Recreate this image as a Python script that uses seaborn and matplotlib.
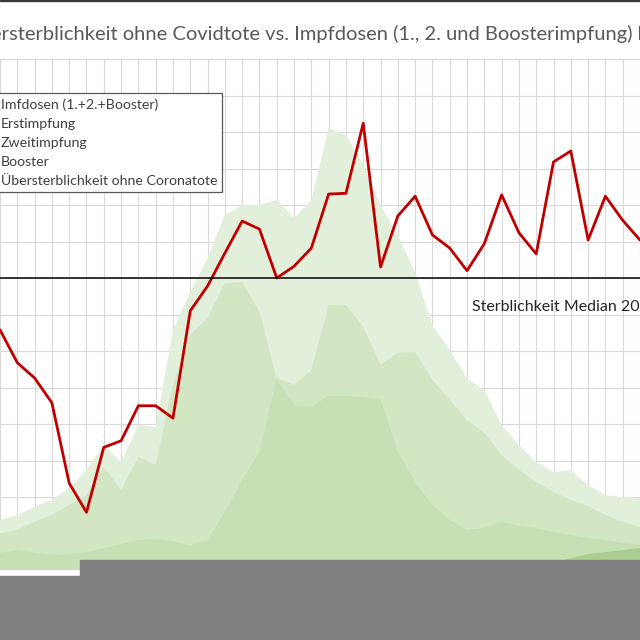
import numpy as np
import pandas as pd
import matplotlib
matplotlib.use('Agg')
import matplotlib.pyplot as plt
import seaborn as sns
from matplotlib.patches import Rectangle

sns.set_style('whitegrid', {'grid.color': '#d9d9d9'})
plt.rcParams['font.family'] = ['Lato', 'DejaVu Sans']

# -------------------------------------------
# Daten (Kalenderwochen, Impfdosen in Tsd., Übersterblichkeit in %)
# -------------------------------------------
weeks = list(range(38))

dosen_gesamt = [137, 151, 173, 192, 225, 274, 342, 296, 397, 392,
                658, 762, 855, 973, 1000, 1000, 1014, 964, 1014, 1211,
                1192, 1110, 1000, 918, 816, 671, 603, 526, 493, 397,
                342, 296, 268, 274, 233, 205, 200, 197]
erstimpfung = [101, 110, 132, 151, 178, 205, 282, 219, 310, 288,
               507, 644, 690, 786, 789, 707, 521, 452, 447, 477,
               477, 474, 466, 323, 241, 178, 137, 110, 115, 132,
               121, 115, 104, 96, 88, 82, 74, 68]
zweitimpfung = [47, 55, 47, 41, 44, 49, 60, 71, 82, 85,
                79, 68, 82, 159, 247, 323, 526, 507, 548, 726,
                726, 666, 562, 595, 597, 521, 466, 411, 375, 315,
                274, 241, 214, 192, 175, 151, 132, 118]
booster = [0, 0, 0, 0, 0, 0, 0, 0, 0, 0,
           0, 0, 0, 0, 0, 0, 0, 0, 0, 0,
           0, 0, 0, 0, 0, 0, 0, 0, 0, 0,
           0, 5, 19, 33, 44, 49, 55, 60]
uebersterblichkeit = [-7.1, -11.6, -13.7, -17.1, -28.1, -32.1, -23.2, -22.3, -17.5, -17.5,
                      -19.2, -4.5, -1.1, 3.4, 7.8, 6.7, 0.0, 1.6, 4.1, 11.5,
                      11.6, 21.2, 1.5, 8.5, 11.2, 5.9, 4.1, 1.0, 4.7, 11.4,
                      6.2, 3.3, 15.9, 17.4, 5.2, 11.2, 7.9, 5.2]

df = pd.DataFrame({'woche': weeks, 'gesamt': dosen_gesamt, 'erst': erstimpfung,
                   'zweit': zweitimpfung, 'booster': booster,
                   'uebersterblichkeit': uebersterblichkeit})

fig = plt.figure(figsize=(6.4, 6.4), dpi=100)
ax = fig.add_axes([0, 1 - 570 / 640, 1, 511 / 640])

h_total = ax.fill_between(df['woche'], df['gesamt'], color='#e2efda', lw=0, zorder=1)
h_erst = ax.fill_between(df['woche'], df['erst'], color='#a9d08e', alpha=0.28, lw=0, zorder=2)
h_zweit = ax.fill_between(df['woche'], df['zweit'], color='#a9d08e', alpha=0.28, lw=0, zorder=3)
h_boost = ax.fill_between(df['woche'], df['booster'], color='#8fbf6e', alpha=0.5, lw=0, zorder=4)

ax.set_xlim(0.24, 36.81)
ax.set_ylim(0, 1400)
ax.set_xticks(weeks)
ax.set_yticks(range(0, 1401, 100))
ax.tick_params(labelbottom=False, labelleft=False, length=0)
ax.set_axisbelow(True)
ax.grid(True, color='#d9d9d9', lw=0.8)
for s in ax.spines.values():
    s.set_visible(False)

ax2 = ax.twinx()
sns.lineplot(x='woche', y='uebersterblichkeit', data=df, ax=ax2,
             color='#c00000', lw=2, legend=False)
h_red = ax2.lines[0]
ax2.axhline(0, color='black', lw=1.1)
ax2.set_ylim(-40, 30)
ax2.set_yticks([])
ax2.grid(False)
ax2.set_xlabel('')
ax2.set_ylabel('')
for s in ax2.spines.values():
    s.set_visible(False)

leg = ax2.legend([h_total, h_erst, h_zweit, h_boost, h_red],
                 ['Imfdosen (1.+2.+Booster)', 'Erstimpfung', 'Zweitimpfung', 'Booster',
                  'Übersterblichkeit ohne Coronatote'],
                 loc='upper left', bbox_to_anchor=(-44 / 640, 1 - 93 / 640),
                 bbox_transform=fig.transFigure, borderaxespad=0,
                 fontsize=10.2, labelspacing=0.5, borderpad=0.35,
                 handlelength=2, handletextpad=0.8, fancybox=False,
                 framealpha=1, edgecolor='#595959')
leg.get_frame().set_linewidth(0.9)
for t in leg.get_texts():
    t.set_color('#404040')

ax2.text(472 / 640, 1 - 307 / 640, 'Sterblichkeit Median 2016-2019', transform=fig.transFigure,
         ha='left', va='center', fontsize=11.5, color='#262626')

fig.text(-35 / 640, 1 - 33 / 640,
         'Übersterblichkeit ohne Covidtote vs. Impfdosen (1., 2. und Boosterimpfung) bis',
         ha='left', va='center', fontsize=14.5, color='#595959')

# Abdeckung unten und Rand oben
fig.add_artist(Rectangle((80 / 640, 0), 560 / 640, 80 / 640, transform=fig.transFigure,
                         color='#808080', zorder=10))
fig.add_artist(Rectangle((0, 0), 80 / 640, 64 / 640, transform=fig.transFigure,
                         color='#808080', zorder=10))
fig.add_artist(Rectangle((0, 639 / 640), 1, 1 / 640, transform=fig.transFigure,
                         color='#3a3a3a', zorder=10))

plt.savefig('out.png', dpi=100)
